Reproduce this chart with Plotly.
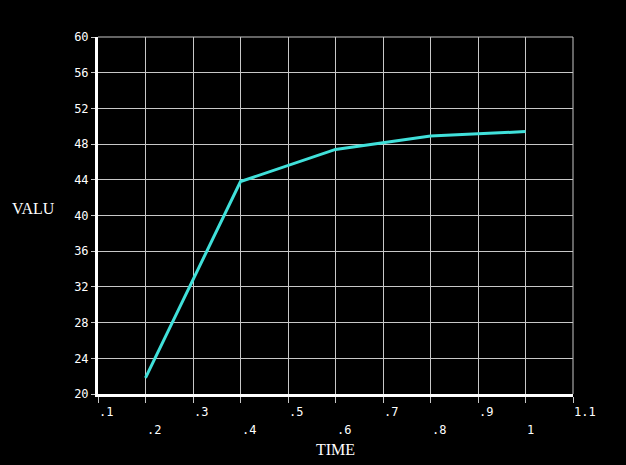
import plotly.graph_objects as go

time = [0.2, 0.4, 0.6, 0.8, 1.0]
valu = [21.8, 43.8, 47.4, 48.9, 49.4]

x_ticks = [0.1, 0.2, 0.3, 0.4, 0.5, 0.6, 0.7, 0.8, 0.9, 1.0, 1.1]
x_tick_labels = [".1", ".2", ".3", ".4", ".5", ".6", ".7", ".8", ".9", "1", "1.1"]
y_ticks = [20, 24, 28, 32, 36, 40, 44, 48, 52, 56, 60]
y_tick_labels = [str(v) for v in y_ticks]

mono = "DejaVu Sans Mono"
title_font = "Liberation Serif, serif"

fig = go.Figure()
fig.add_trace(go.Scatter(
    x=time, y=valu, mode="lines",
    line=dict(color="#40e0da", width=3),
    hoverinfo="skip", showlegend=False,
))

annotations = []
for i, (tv, tl) in enumerate(zip(x_ticks, x_tick_labels)):
    annotations.append(dict(
        x=tv, y=-0.05 if i % 2 == 0 else -0.1, xref="x", yref="paper",
        text=tl, showarrow=False, xanchor="left", yanchor="middle", xshift=-1,
        font=dict(family=mono, size=12, color="white"),
    ))
annotations.append(dict(
    x=0.5, y=-0.155, xref="paper", yref="paper", text="TIME", showarrow=False,
    xanchor="center", yanchor="middle",
    font=dict(family=title_font, size=16, color="white"),
))
annotations.append(dict(
    x=-0.185, y=0.52, xref="paper", yref="paper", text="VALU", showarrow=False,
    xanchor="left", yanchor="middle",
    font=dict(family=title_font, size=16, color="white"),
))

fig.update_layout(
    width=626, height=465,
    margin=dict(l=98, r=53, t=37, b=71),
    paper_bgcolor="black", plot_bgcolor="black",
    annotations=annotations,
    xaxis=dict(
        range=[0.1, 1.1], tickvals=x_ticks, showticklabels=False,
        showgrid=True, gridcolor="#c8c8c8", gridwidth=1,
        showline=True, linecolor="white", linewidth=3,
        ticks="outside", ticklen=6, tickcolor="#c8c8c8", tickwidth=1,
        zeroline=False, fixedrange=True,
    ),
    yaxis=dict(
        range=[20, 60], tickvals=y_ticks, ticktext=y_tick_labels,
        showgrid=True, gridcolor="#c8c8c8", gridwidth=1,
        showline=True, linecolor="white", linewidth=3,
        ticks="outside", ticklen=4, tickcolor="#c8c8c8", tickwidth=1,
        tickfont=dict(family=mono, size=12, color="white"),
        zeroline=False, fixedrange=True,
    ),
    shapes=[
        dict(type="line", xref="paper", yref="paper", x0=0, x1=1, y0=1, y1=1,
             line=dict(color="#c8c8c8", width=1), layer="below"),
        dict(type="line", xref="paper", yref="paper", x0=1, x1=1, y0=0, y1=1,
             line=dict(color="#c8c8c8", width=1), layer="below"),
    ],
)

fig.write_html(
    "out.html",
    config={"displayModeBar": False},
    post_script="document.body.style.margin='0';document.body.style.background='black';",
)
